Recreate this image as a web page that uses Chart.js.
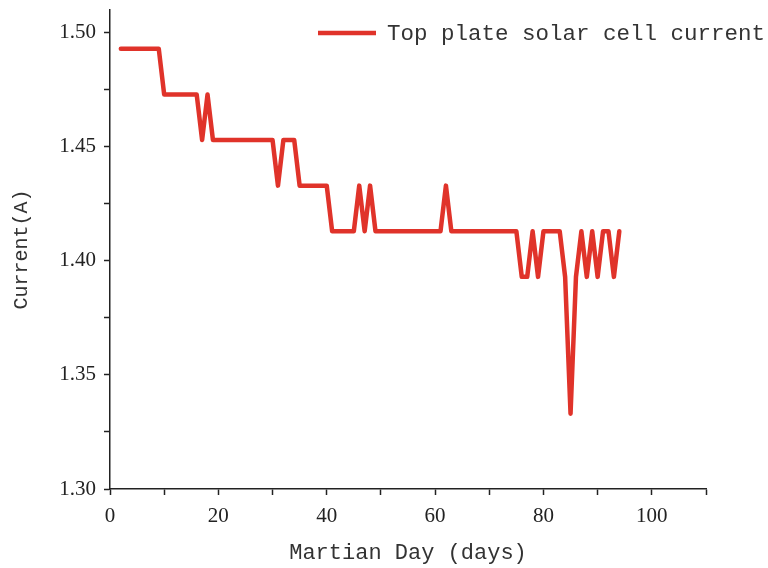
<!DOCTYPE html>
<html>
<head>
<meta charset="utf-8">
<script src="https://cdn.jsdelivr.net/npm/chart.js@4/dist/chart.umd.min.js"></script>
<style>
  html, body { margin: 0; padding: 0; background: #fff; }
  #wrap { width: 768px; height: 568px; }
</style>
</head>
<body>
<div id="wrap"><canvas id="chart"></canvas></div>
<script>
// martian day (breakpoints of the trace) and current readings
const days = [2, 9, 10, 16, 17, 18, 19, 30, 31, 32, 34, 35, 40, 41, 45, 46, 47, 48, 49, 61, 62, 63,
    75, 76, 77, 78, 79, 80, 83, 84, 85, 86, 87, 88, 89, 90, 91, 92, 93, 94];
const current = [1.493, 1.493, 1.473, 1.473, 1.453, 1.473, 1.453, 1.453, 1.433, 1.453, 1.453, 1.433,
    1.433, 1.413, 1.413, 1.433, 1.413, 1.433, 1.413, 1.413, 1.433, 1.413,
    1.413, 1.393, 1.393, 1.413, 1.393, 1.413, 1.413, 1.393, 1.333, 1.393, 1.413, 1.393, 1.413,
    1.393, 1.413, 1.413, 1.393, 1.413];
const seriesLabel = "Top plate solar cell current";
const xTicks = [0, 10, 20, 30, 40, 50, 60, 70, 80, 90, 100, 110];
const xLabels = [0, 20, 40, 60, 80, 100];
const yTicks = [1.30, 1.325, 1.35, 1.375, 1.40, 1.425, 1.45, 1.475, 1.50];
const yLabels = ["1.30", "1.35", "1.40", "1.45", "1.50"];

const lineColor = "#e0332a";
const monoFont = "'Liberation Mono', 'DejaVu Sans Mono', monospace";
const serifFont = "'Liberation Serif', 'DejaVu Serif', serif";

// legend drawn inside the plot, top right, like the original figure
const cornerLegend = {
    id: "cornerLegend",
    afterDraw(chart) {
        const ctx = chart.ctx;
        const ds = chart.data.datasets[0];
        const y = chart.chartArea.top + 23;
        const x0 = chart.chartArea.left + 208;
        ctx.save();
        ctx.strokeStyle = ds.borderColor;
        ctx.lineWidth = 4.5;
        ctx.beginPath();
        ctx.moveTo(x0, y);
        ctx.lineTo(x0 + 58, y);
        ctx.stroke();
        ctx.fillStyle = "#333";
        ctx.font = "22.5px " + monoFont;
        ctx.textBaseline = "middle";
        ctx.fillText(ds.label, x0 + 69, y + 1);
        ctx.restore();
    }
};

const points = days.map((d, i) => ({ x: d, y: current[i] }));

new Chart(document.getElementById("chart"), {
    type: "line",
    data: {
        datasets: [{
            label: seriesLabel,
            data: points,
            borderColor: lineColor,
            backgroundColor: lineColor,
            borderWidth: 4.5,
            borderJoinStyle: "round",
            borderCapStyle: "round",
            pointRadius: 0,
            tension: 0,
            fill: false,
        }],
    },
    options: {
        responsive: true,
        maintainAspectRatio: false,
        animation: false,
        layout: { padding: { top: 10, right: 62, left: 0, bottom: 0 } },
        plugins: {
            legend: { display: false },
            tooltip: { enabled: false },
        },
        scales: {
            x: {
                type: "linear",
                min: 0,
                max: 110,
                afterBuildTicks: (s) => { s.ticks = xTicks.map(v => ({ value: v })); },
                afterFit: (s) => { s.height = 79; s.paddingLeft = 0; s.paddingRight = 0; },
                border: { color: "#222", width: 1.5 },
                grid: { drawOnChartArea: false, tickLength: 6, tickColor: "#222", tickWidth: 1.5 },
                ticks: {
                    autoSkip: false,
                    maxRotation: 0,
                    padding: 9,
                    color: "#222",
                    font: { family: serifFont, size: 21 },
                    callback: (v) => xLabels.includes(v) ? String(v) : "",
                },
                title: {
                    display: true,
                    text: "Martian Day (days)",
                    color: "#333",
                    font: { family: monoFont, size: 22 },
                    padding: { top: 0, bottom: 2 },
                },
            },
            y: {
                type: "linear",
                min: 1.30,
                max: 1.51,
                afterBuildTicks: (s) => { s.ticks = yTicks.map(v => ({ value: v })); },
                afterFit: (s) => { s.width = 110; s.paddingTop = 0; s.paddingBottom = 0; },
                border: { color: "#222", width: 1.5 },
                grid: { drawOnChartArea: false, tickLength: 6, tickColor: "#222", tickWidth: 1.5 },
                ticks: {
                    autoSkip: false,
                    padding: 8,
                    color: "#222",
                    font: { family: serifFont, size: 21 },
                    callback: (v) => {
                        const t = Number(v).toFixed(2);
                        return yLabels.includes(t) && Math.abs(v * 100 - Math.round(v * 100)) < 1e-6 ? t : "";
                    },
                },
                title: {
                    display: true,
                    text: "Current(A)",
                    color: "#333",
                    font: { family: monoFont, size: 20 },
                    padding: { top: 10, bottom: 0 },
                },
            },
        },
    },
    plugins: [cornerLegend],
});
</script>
</body>
</html>
